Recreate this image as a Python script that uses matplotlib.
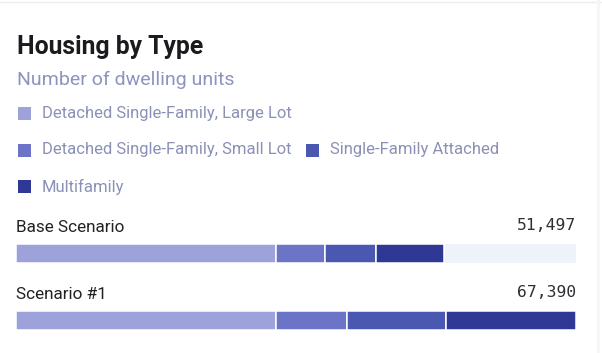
import matplotlib.pyplot as plt
from matplotlib.patches import Rectangle

W, H = 602, 353

scenarios = ["Base Scenario", "Scenario #1"]
types = [
    "Detached Single-Family, Large Lot",
    "Detached Single-Family, Small Lot",
    "Single-Family Attached",
    "Multifamily",
]
large_lot = [31330, 31330]
small_lot = [5910, 8447]
attached = [6100, 12010]
multifamily = [8157, 15603]

colors = ["#9ea2da", "#6b74c7", "#4b58b2", "#2f3895"]
track_color = "#eef3fa"

plt.rcParams["font.family"] = ["Roboto", "DejaVu Sans"]

fig = plt.figure(figsize=(W / 100, H / 100), dpi=100)
fig.patch.set_facecolor("white")


def fx(px):
    return px / W


def fy(py):
    return 1 - py / H


# card edges
fig.add_artist(plt.Line2D([0, 1], [fy(1.5), fy(1.5)], color="#ececef", lw=1))
fig.add_artist(plt.Line2D([fx(598), fx(598)], [0, 1], color="#f5f6f8", lw=2))

fig.text(fx(17), fy(47), "Housing by Type", fontsize=17.8, fontweight="bold",
         color="#1b1b1f", va="center")
fig.text(fx(17), fy(79.5), "Number of dwelling units", fontsize=14,
         color="#8d93bf", va="center")

# legend, wrapped the way the card lays it out
legend_pos = [(18, 113.5), (18, 150), (306, 150), (18, 186.5)]
for name, c, (lx, ly) in zip(types, colors, legend_pos):
    fig.add_artist(Rectangle((fx(lx), fy(ly + 6.5)), 13 / W, 13 / H,
                             facecolor=c, edgecolor="none"))
    fig.text(fx(lx + 24), fy(ly), name, fontsize=12, color="#8b91b6",
             va="center")

totals = [sum(v) for v in zip(large_lot, small_lot, attached, multifamily)]
xmax = max(totals)

# bars: rows are 67 px apart
top, bottom = 205, 340
ax = fig.add_axes([fx(16), 1 - bottom / H, 560 / W, (bottom - top) / H])
rows = list(range(len(scenarios)))
bar_h = 19 / 67
ax.barh(rows, [xmax] * len(rows), height=bar_h, color=track_color, lw=0)
left = [0] * len(rows)
for vals, c in zip([large_lot, small_lot, attached, multifamily], colors):
    ax.barh(rows, vals, left=left, height=bar_h, color=c,
            edgecolor="white", linewidth=1.1)
    left = [a + b for a, b in zip(left, vals)]

for r, name, tot in zip(rows, scenarios, totals):
    ax.text(0, r - 0.40, name, fontsize=12.3, color="#222226", va="center",
            ha="left")
    ax.text(xmax, r - 0.42, f"{tot:,}", fontsize=11.8, color="#2e2e33",
            va="center", ha="right", family="DejaVu Sans Mono")

ax.set_xlim(0, xmax)
ax.set_ylim(1 + (bottom - 320.9) / 67, -(253.8 - top) / 67)
ax.axis("off")

fig.savefig("out.png", dpi=100, facecolor="white")
